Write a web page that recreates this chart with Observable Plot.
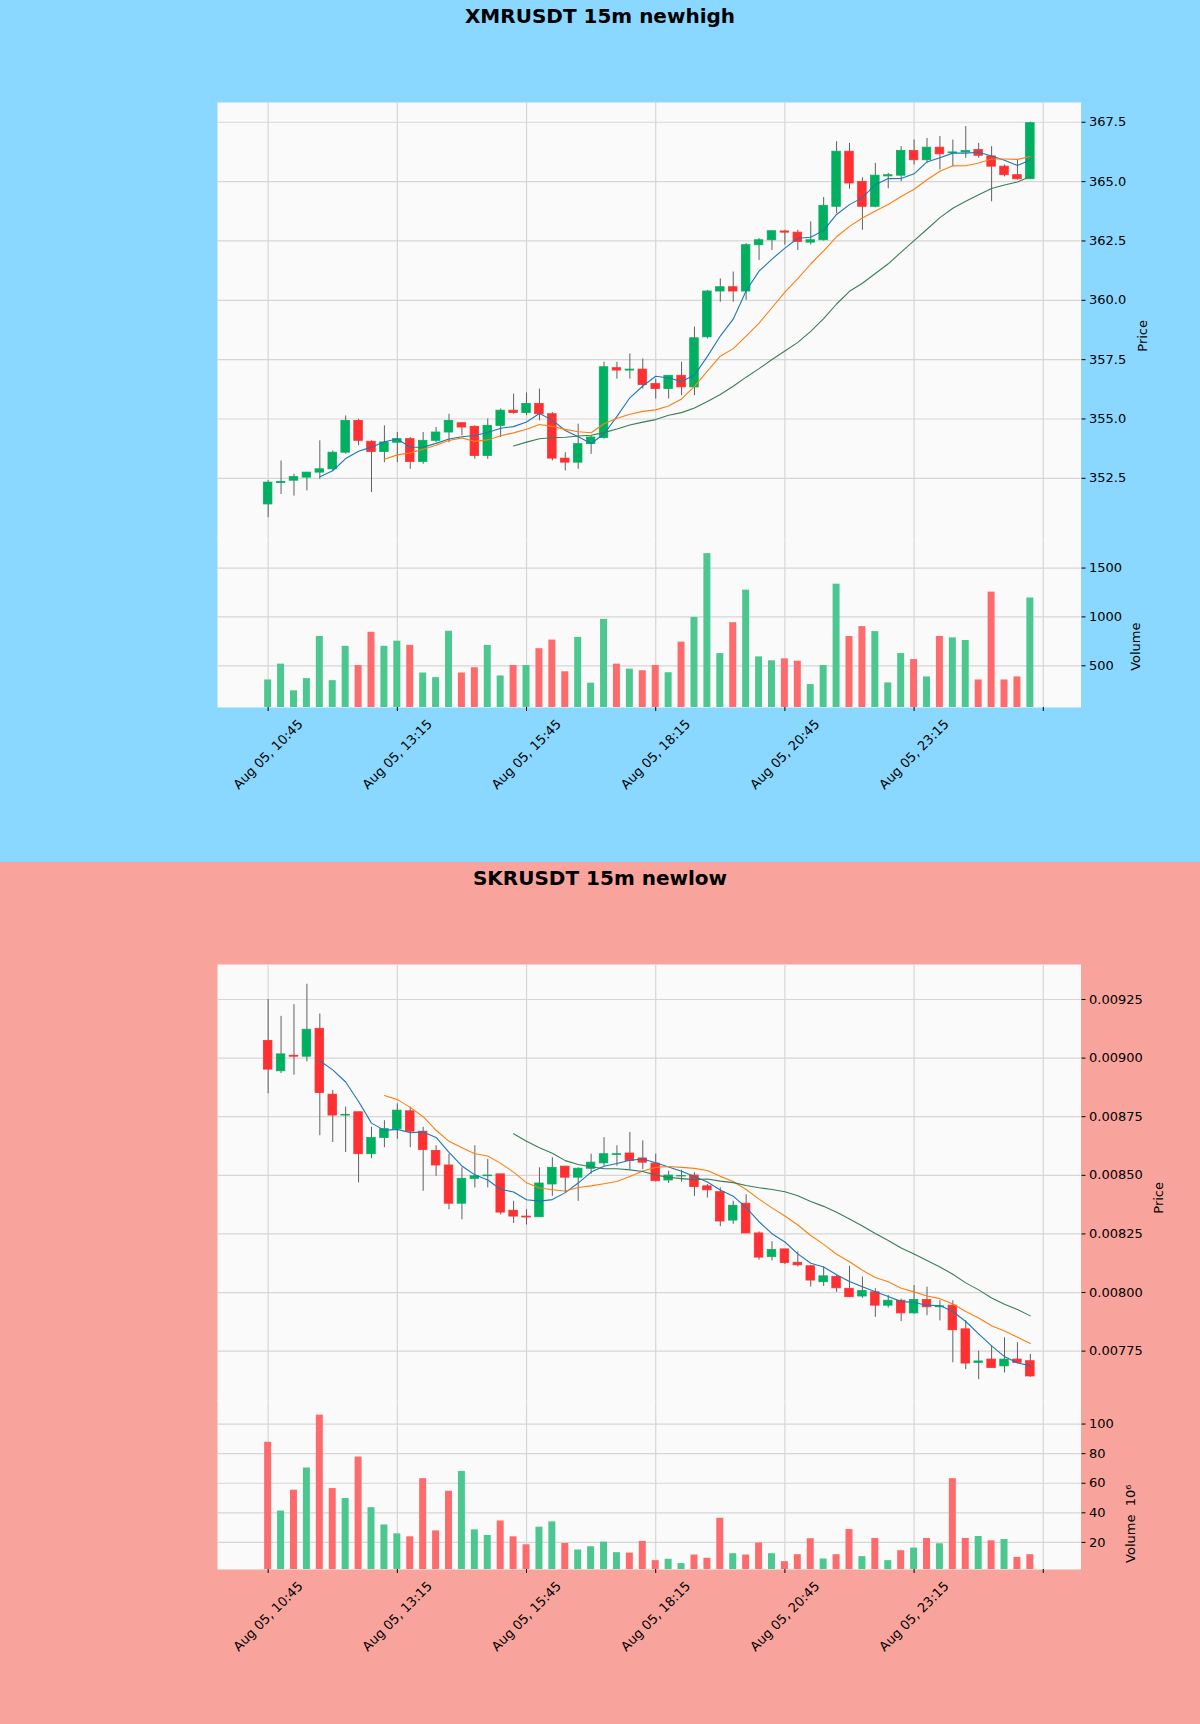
<!DOCTYPE html>
<html>
<head>
<meta charset="utf-8">
<script src="https://cdn.jsdelivr.net/npm/d3@7"></script>
<script src="https://cdn.jsdelivr.net/npm/@observablehq/plot@0.6"></script>
<style>
  body { margin: 0; font-family: "DejaVu Sans", sans-serif; }
  .fig { position: relative; width: 1200px; height: 862px; overflow: hidden; }
  .title { position: absolute; top: 4px; left: 0; width: 1200px; height: 24px; line-height: 24px;
           text-align: center; font-weight: bold; font-size: 20px; color: #000; font-family: "DejaVu Sans", sans-serif; z-index: 2; }
  .panel { position: absolute; left: 0; }
</style>
</head>
<body>
<div id="fig1" class="fig" style="background:#8ad8ff">
  <div class="title">XMRUSDT 15m newhigh</div>
  <div class="panel vol" style="top:537px"></div>
  <div class="panel price" style="top:0"></div>
</div>
<div id="fig2" class="fig" style="background:#f8a49c">
  <div class="title">SKRUSDT 15m newlow</div>
  <div class="panel vol" style="top:537px"></div>
  <div class="panel price" style="top:0"></div>
</div>
<script>
// ---------- shared x ticks ----------
const xTickPositions = [0, 10, 20, 30, 40, 50, 60];
const xTickLabels = ["Aug 05, 10:45", "Aug 05, 13:15", "Aug 05, 15:45", "Aug 05, 18:15", "Aug 05, 20:45", "Aug 05, 23:15", ""];

// ---------- XMRUSDT 15m ----------
const xmrOpen = [351.40,352.30,352.40,352.53,352.74,352.88,353.58,354.92,354.04,353.61,
  354.00,354.15,353.19,354.08,354.43,354.82,354.67,353.44,354.71,355.35,
  355.25,355.63,355.20,353.33,353.16,353.94,354.20,357.14,357.04,357.08,
  356.47,356.26,356.82,356.33,358.44,360.37,360.55,360.37,362.32,362.53,
  362.90,362.85,362.43,362.53,363.94,366.26,364.99,363.94,365.22,365.25,
  366.29,365.90,366.43,366.20,366.23,366.33,366.06,365.63,365.27,365.10];
const xmrHigh = [352.40,353.23,352.67,352.75,354.08,353.65,355.13,354.99,354.08,354.71,
  354.43,354.22,354.43,354.64,355.20,354.85,354.71,355.00,355.42,356.05,
  356.10,356.26,355.27,353.58,354.78,354.29,357.39,357.39,357.74,357.53,
  356.68,356.82,357.39,358.87,360.41,360.90,361.19,362.39,362.60,362.91,
  362.95,362.95,363.30,364.33,366.68,366.61,365.16,365.77,365.35,366.47,
  366.75,366.82,366.90,366.75,367.32,366.61,366.47,365.70,365.90,367.50];
const xmrLow = [350.84,351.82,351.75,351.97,352.46,352.80,353.52,353.87,351.90,353.16,
  353.16,352.88,353.09,354.00,354.00,354.29,353.30,353.30,354.22,355.20,
  355.14,354.92,353.23,352.81,352.88,353.51,354.15,356.68,356.68,356.26,
  355.84,355.84,355.98,355.98,358.37,359.92,359.92,360.00,361.68,362.10,
  362.32,362.10,362.33,362.50,363.65,364.68,362.95,363.90,364.70,364.99,
  365.70,365.77,365.49,365.63,365.98,365.98,364.15,365.20,365.06,365.10];
const xmrClose = [352.32,352.35,352.55,352.74,352.88,353.58,354.92,354.08,353.61,354.01,
  354.15,353.19,354.08,354.43,354.92,354.64,353.44,354.71,355.35,355.25,
  355.63,355.20,353.33,353.16,353.94,354.22,357.18,357.04,357.08,356.43,
  356.26,356.82,356.33,358.40,360.37,360.55,360.37,362.32,362.53,362.91,
  362.85,362.46,362.53,363.98,366.26,364.92,363.94,365.25,365.27,366.29,
  365.90,366.43,366.15,366.23,366.29,366.09,365.63,365.27,365.10,367.46];
const xmrVolume = [355,517,244,369,800,348,699,503,843,699,
  752,709,426,379,853,426,480,709,396,503,
  503,675,763,439,790,322,975,517,466,449,
  503,429,742,995,1648,625,941,1274,591,551,
  571,547,308,503,1335,800,901,850,325,625,
  564,386,800,786,759,355,1254,355,386,1194];
const xmrPriceTicks = [352.5, 355.0, 357.5, 360.0, 362.5, 365.0, 367.5];
const xmrVolumeTicks = [500, 1000, 1500];

// ---------- SKRUSDT 15m ----------
const skrOpen = [0.009073,0.008944,0.009010,0.009006,0.009125,0.008844,0.008755,0.008769,0.008590,0.008659,
  0.008697,0.008773,0.008686,0.008604,0.008542,0.008379,0.008485,0.008496,0.008504,0.008349,
  0.008324,0.008321,0.008461,0.008537,0.008490,0.008528,0.008551,0.008587,0.008593,0.008572,
  0.008550,0.008478,0.008495,0.008499,0.008453,0.008428,0.008307,0.008379,0.008252,0.008152,
  0.008184,0.008127,0.008112,0.008044,0.008066,0.008016,0.007983,0.008001,0.007944,0.007965,
  0.007911,0.007968,0.007937,0.007944,0.007843,0.007700,0.007714,0.007685,0.007714,0.007707];
const skrHigh = [0.009250,0.009178,0.009228,0.009315,0.009188,0.008862,0.008791,0.008769,0.008705,0.008733,
  0.008805,0.008791,0.008705,0.008626,0.008590,0.008532,0.008626,0.008568,0.008504,0.008389,
  0.008353,0.008532,0.008575,0.008537,0.008532,0.008590,0.008661,0.008626,0.008683,0.008647,
  0.008590,0.008518,0.008522,0.008511,0.008461,0.008446,0.008389,0.008417,0.008259,0.008217,
  0.008184,0.008173,0.008116,0.008109,0.008073,0.008112,0.008066,0.008016,0.007987,0.007972,
  0.008030,0.008023,0.007965,0.007965,0.007879,0.007750,0.007772,0.007807,0.007786,0.007736];
const skrLow = [0.008848,0.008934,0.008927,0.008984,0.008669,0.008640,0.008597,0.008468,0.008571,0.008618,
  0.008654,0.008618,0.008432,0.008496,0.008353,0.008310,0.008446,0.008446,0.008331,0.008295,
  0.008288,0.008321,0.008410,0.008425,0.008389,0.008504,0.008539,0.008539,0.008525,0.008525,
  0.008471,0.008465,0.008471,0.008410,0.008403,0.008281,0.008291,0.008252,0.008138,0.008135,
  0.008119,0.008109,0.008023,0.008026,0.008001,0.007980,0.007975,0.007894,0.007934,0.007876,
  0.007908,0.007901,0.007879,0.007700,0.007671,0.007628,0.007678,0.007657,0.007696,0.007638];
const skrClose = [0.008951,0.009016,0.009006,0.009121,0.008851,0.008755,0.008758,0.008590,0.008659,0.008697,
  0.008776,0.008686,0.008608,0.008542,0.008379,0.008485,0.008496,0.008499,0.008341,0.008324,
  0.008320,0.008465,0.008532,0.008490,0.008528,0.008554,0.008590,0.008590,0.008561,0.008554,
  0.008475,0.008499,0.008497,0.008450,0.008436,0.008303,0.008370,0.008252,0.008149,0.008181,
  0.008126,0.008116,0.008051,0.008069,0.008018,0.007980,0.008006,0.007944,0.007965,0.007911,
  0.007968,0.007937,0.007941,0.007839,0.007697,0.007706,0.007678,0.007714,0.007700,0.007642];
const skrVolume = [87.7,41.2,55.3,70.3,106.0,56.4,49.7,77.7,43.5,31.8,
  25.8,23.8,63.1,27.8,54.6,68.0,28.5,24.7,34.5,23.8,
  18.4,30.3,33.9,19.3,14.9,17.1,20.2,13.1,12.8,20.7,
  7.7,8.6,5.7,11.5,9.3,36.3,12.4,11.5,19.6,12.4,
  7.0,11.7,22.5,8.8,11.7,28.7,10.4,22.7,7.7,14.4,
  16.2,22.7,19.1,63.1,22.7,24.0,21.1,22.0,9.9,11.7];
const skrPriceTicks = [0.00775, 0.00800, 0.00825, 0.00850, 0.00875, 0.00900, 0.00925];
const skrVolumeTicks = [20, 40, 60, 80, 100];

// ---------- styling ----------
const UP = "#00b060", DOWN = "#fe3032", VUP = "#4dc790", VDOWN = "#fd6b6c", WICK = "#606060";
const MA_PERIODS = [5, 10, 20];
const MA_COLORS = ["#1f77b4", "#ff7f0e", "#3a7d55"];
const GRID = "#d6d6d6";
const WIDTH = 1200, ML = 217, MR = 119.5;
const XDOMAIN = [-3.92, 62.92];
const FONT = {background: "transparent", fontFamily: "DejaVu Sans", fontSize: "13px", color: "#000", overflow: "visible"};

function drawFigure(fig, cfg) {
  const rows = cfg.open.map((o, i) => ({
    i, open: o, high: cfg.high[i], low: cfg.low[i], close: cfg.close[i], volume: cfg.volume[i]
  }));
  const lo = d3.min(cfg.low), hi = d3.max(cfg.high), pad = (hi - lo) * 0.05;
  const upDown = (u, d) => r => (r.close >= r.open ? u : d);

  const price = Plot.plot({
    width: WIDTH, height: 537,
    marginTop: 102, marginBottom: 0, marginLeft: ML, marginRight: MR,
    style: FONT,
    x: {type: "linear", domain: XDOMAIN, axis: null},
    y: {domain: [lo - pad, hi + pad], axis: null},
    color: {type: "identity"},
    marks: [
      Plot.frame({fill: "#fafafa", stroke: "none", insetBottom: -2}),
      Plot.gridY(cfg.priceTicks, {stroke: GRID, strokeOpacity: 1, strokeWidth: 1.2}),
      Plot.gridX(xTickPositions, {stroke: GRID, strokeOpacity: 1, strokeWidth: 1.2, insetBottom: -2}),
      Plot.ruleX(rows, {x: "i", y1: "low", y2: "high", stroke: WICK, strokeWidth: 1}),
      Plot.rect(rows, {x1: r => r.i - 0.33, x2: r => r.i + 0.33, y1: "open", y2: "close",
        fill: upDown(UP, DOWN), stroke: upDown(UP, DOWN), strokeWidth: 0.8}),
      ...MA_PERIODS.map((k, j) => Plot.lineY(rows, Plot.windowY({k, anchor: "end", strict: true},
        {x: "i", y: "close", stroke: MA_COLORS[j], strokeWidth: 1.1}))),
      Plot.axisY(cfg.priceTicks, {anchor: "right", tickSize: 4, tickPadding: 4, label: null,
        tickFormat: cfg.priceFormat, fontSize: 13}),
      Plot.text(["Price"], {frameAnchor: "right", dx: cfg.priceLabelDx, rotate: -90, fontSize: 13})
    ]
  });
  fig.querySelector(".price").appendChild(price);

  const vmin = d3.min(cfg.volume) * 0.3, vmax = d3.max(cfg.volume) * 1.1;
  const ticks = xTickPositions.map((p, i) => ({p, label: xTickLabels[i]}));
  const vol = Plot.plot({
    width: WIDTH, height: 325,
    marginTop: 0, marginBottom: 155, marginLeft: ML, marginRight: MR,
    style: FONT,
    x: {type: "linear", domain: XDOMAIN},
    y: {domain: [vmin, vmax], axis: null},
    color: {type: "identity"},
    marks: [
      Plot.frame({fill: "#fafafa", stroke: "none"}),
      Plot.gridY(cfg.volumeTicks, {stroke: GRID, strokeOpacity: 1, strokeWidth: 1.2}),
      Plot.gridX(xTickPositions, {stroke: GRID, strokeOpacity: 1, strokeWidth: 1.2}),
      Plot.rect(rows, {x1: r => r.i - 0.27, x2: r => r.i + 0.27, y1: 0, y2: "volume",
        fill: upDown(VUP, VDOWN), clip: true}),
      Plot.axisY(cfg.volumeTicks, {anchor: "right", tickSize: 4, tickPadding: 4, label: null,
        tickFormat: d => String(d), fontSize: 13}),
      Plot.axisX(xTickPositions, {anchor: "bottom", tickSize: 4, tickFormat: () => "", label: null}),
      Plot.text(ticks.filter(t => t.label), {x: "p", text: "label", frameAnchor: "bottom",
        dy: 47, rotate: -45, textAnchor: "middle", lineAnchor: "middle", fontSize: 13}),
      Plot.text([cfg.volumeLabel], {frameAnchor: "right", dx: cfg.volumeLabelDx, rotate: -90, fontSize: 13})
    ]
  });
  fig.querySelector(".vol").appendChild(vol);
}

drawFigure(document.getElementById("fig1"), {
  open: xmrOpen, high: xmrHigh, low: xmrLow, close: xmrClose, volume: xmrVolume,
  priceTicks: xmrPriceTicks, volumeTicks: xmrVolumeTicks,
  priceFormat: d => d.toFixed(1), priceLabelDx: 62,
  volumeLabel: "Volume", volumeLabelDx: 55
});
drawFigure(document.getElementById("fig2"), {
  open: skrOpen, high: skrHigh, low: skrLow, close: skrClose, volume: skrVolume,
  priceTicks: skrPriceTicks, volumeTicks: skrVolumeTicks,
  priceFormat: d => d.toFixed(5), priceLabelDx: 78,
  volumeLabel: "Volume  10\u2076", volumeLabelDx: 50
});
</script>
</body>
</html>
